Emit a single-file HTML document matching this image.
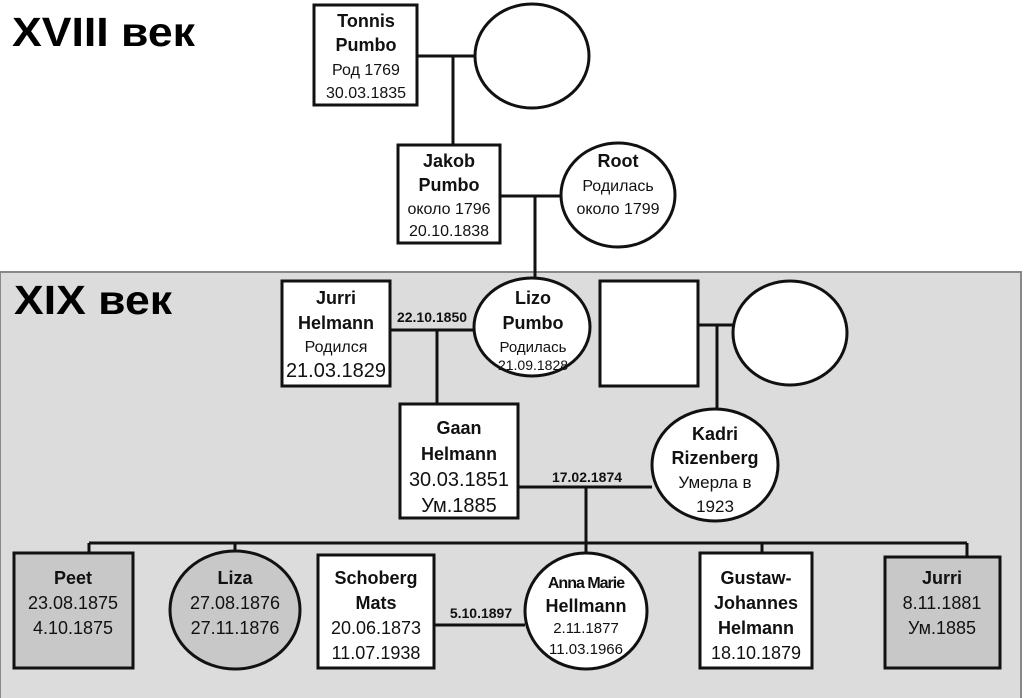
<!DOCTYPE html><html><head><style>body{margin:0}svg{display:block}text{font-family:"Liberation Sans",Arial,sans-serif;text-anchor:middle}</style></head><body>
<svg width="1024" height="698" xmlns="http://www.w3.org/2000/svg">
<rect width="1024" height="698" fill="#fff"/>
<rect x="0" y="272" width="1021" height="430" fill="#dcdcdc" stroke="#888" stroke-width="2"/>
<text x="12" y="46" style="text-anchor:start;font-weight:bold;font-size:41px" textLength="183" lengthAdjust="spacingAndGlyphs">XVIII век</text>
<text x="14" y="314" style="text-anchor:start;font-weight:bold;font-size:41px" textLength="158" lengthAdjust="spacingAndGlyphs">XIX век</text>
<g stroke="#111" stroke-width="3" fill="none">
<path d="M417 56H475M453 56V145M500 196H561M535 196V280M390 330H473M437 330V404M698 325H733M717 325V410M518 487H652M586 487V543M89 543H967M89 543V553M235 543V553M586 543V553M762 543V553M967 543V557M434 625H525"/>
</g>
<g stroke="#111" stroke-width="3">
<rect x="314" y="5" width="103" height="100" fill="#fff"/>
<ellipse cx="532" cy="56" rx="57" ry="52" fill="#fff"/>
<rect x="398" y="145" width="102" height="98" fill="#fff"/>
<ellipse cx="618" cy="195" rx="57" ry="52" fill="#fff"/>
<rect x="282" y="281" width="108" height="105" fill="#fff"/>
<ellipse cx="532" cy="327" rx="58" ry="49" fill="#fff"/>
<rect x="400" y="404" width="118" height="114" fill="#fff"/>
<rect x="600" y="281" width="98" height="105" fill="#fff"/>
<ellipse cx="790" cy="333" rx="57" ry="52" fill="#fff"/>
<ellipse cx="715" cy="465" rx="63" ry="56" fill="#fff"/>
<rect x="14" y="553" width="119" height="115" fill="#c8c8c8"/>
<ellipse cx="235" cy="610" rx="65" ry="59" fill="#c8c8c8"/>
<rect x="318" y="555" width="116" height="113" fill="#fff"/>
<ellipse cx="586" cy="611" rx="61" ry="58" fill="#fff"/>
<rect x="700" y="553" width="112" height="115" fill="#fff"/>
<rect x="885" y="557" width="115" height="111" fill="#c8c8c8"/>
</g>
<g font-size="18" fill="#111">
<text x="366" y="27" font-weight="bold">Tonnis</text><text x="366" y="51" font-weight="bold">Pumbo</text><text x="366" y="75" font-size="16">Род 1769</text><text x="366" y="98" font-size="16">30.03.1835</text>
<text x="449" y="167" font-weight="bold">Jakob</text><text x="449" y="191" font-weight="bold">Pumbo</text><text x="449" y="214" font-size="16">около 1796</text><text x="449" y="236" font-size="16">20.10.1838</text>
<text x="618" y="167" font-weight="bold">Root</text><text x="618" y="191" font-size="16">Родилась</text><text x="618" y="214" font-size="16">около 1799</text>
<text x="336" y="304" font-weight="bold">Jurri</text><text x="336" y="329" font-weight="bold">Helmann</text><text x="336" y="352" font-size="16">Родился</text><text x="336" y="377" font-size="20">21.03.1829</text>
<text x="432" y="322" font-weight="bold" font-size="14">22.10.1850</text>
<text x="533" y="304" font-weight="bold">Lizo</text><text x="533" y="329" font-weight="bold">Pumbo</text><text x="533" y="352" font-size="15">Родилась</text><text x="533" y="370" font-size="14">21.09.1828</text>
<text x="459" y="434" font-weight="bold">Gaan</text><text x="459" y="460" font-weight="bold">Helmann</text><text x="459" y="486" font-size="20">30.03.1851</text><text x="459" y="512" font-size="20">Ум.1885</text>
<text x="587" y="482" font-weight="bold" font-size="14">17.02.1874</text>
<text x="715" y="440" font-weight="bold">Kadri</text><text x="715" y="464" font-weight="bold">Rizenberg</text><text x="715" y="488" font-size="17">Умерла в</text><text x="715" y="512" font-size="17">1923</text>
<text x="73" y="584" font-weight="bold">Peet</text><text x="73" y="609">23.08.1875</text><text x="73" y="634">4.10.1875</text>
<text x="235" y="584" font-weight="bold">Liza</text><text x="235" y="609">27.08.1876</text><text x="235" y="634">27.11.1876</text>
<text x="376" y="584" font-weight="bold">Schoberg</text><text x="376" y="609" font-weight="bold">Mats</text><text x="376" y="634">20.06.1873</text><text x="376" y="659">11.07.1938</text>
<text x="481" y="618" font-weight="bold" font-size="14">5.10.1897</text>
<text x="586" y="588" font-weight="bold" font-size="16" letter-spacing="-1">Anna Marie</text><text x="586" y="612" font-weight="bold">Hellmann</text><text x="586" y="633" font-size="15">2.11.1877</text><text x="586" y="654" font-size="15">11.03.1966</text>
<text x="756" y="584" font-weight="bold">Gustaw-</text><text x="756" y="609" font-weight="bold">Johannes</text><text x="756" y="634" font-weight="bold">Helmann</text><text x="756" y="659">18.10.1879</text>
<text x="942" y="584" font-weight="bold">Jurri</text><text x="942" y="609">8.11.1881</text><text x="942" y="634">Ум.1885</text>
</g>
</svg></body></html>
